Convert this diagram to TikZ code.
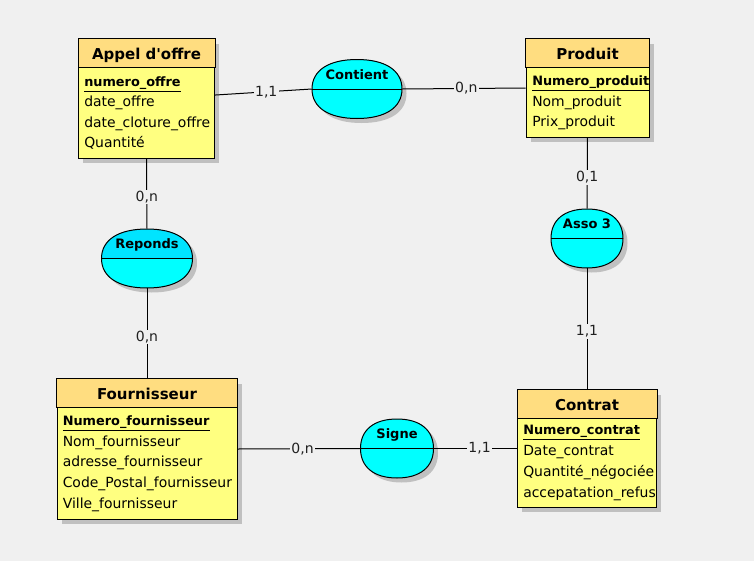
\documentclass[tikz,border=0pt]{standalone}
\usepackage{fontspec}
\setmainfont{DejaVu Sans}
\usetikzlibrary{shadows}
\definecolor{bg}{HTML}{F0F0F0}
\definecolor{hdr}{HTML}{FFDD80}
\definecolor{bodyc}{HTML}{FFFF80}
\definecolor{assoc}{HTML}{00FFFF}
\definecolor{assoctop}{HTML}{00E4FF}
\definecolor{shade}{HTML}{C0C0C0}
\definecolor{cardc}{HTML}{202020}
\tikzset{
  shad/.style={drop shadow={shadow xshift=3.4pt, shadow yshift=-3.4pt, fill=shade, opacity=1}},
  entbox/.style={rectangle, draw=black, line width=.75pt, fill=bodyc, inner sep=0pt, shad},
  assocnode/.style={rectangle, inner sep=0pt},
  enttitle/.style={inner sep=0pt, font=\bfseries\fontsize{11.25pt}{13pt}\selectfont},
  attr/.style={inner sep=0pt, anchor=base west, font=\fontsize{10.45pt}{12pt}\selectfont},
  keyattr/.style={inner sep=0pt, anchor=base west, font=\bfseries\fontsize{9.65pt}{12pt}\selectfont},
  asstitle/.style={inner sep=0pt, anchor=base, font=\bfseries\fontsize{9.75pt}{12pt}\selectfont},
  card/.style={fill=bg, inner sep=1pt, text=cardc, font=\fontsize{10.5pt}{12pt}\selectfont},
  link/.style={draw=black, line width=.75pt}
}
% oval path: #1 options, #2 x, #3 y, #4 half width, #5 half height
\newcommand\ovaldraw[5]{%
  \path[#1] ({#2-(#4)},#3) .. controls ({#2-(#4)},{#3-0.63*(#5)}) and ({#2-0.63*(#4)},{#3-(#5)}) .. (#2,{#3-(#5)})
    .. controls ({#2+0.63*(#4)},{#3-(#5)}) and ({#2+(#4)},{#3-0.63*(#5)}) .. ({#2+(#4)},#3)
    .. controls ({#2+(#4)},{#3+0.63*(#5)}) and ({#2+0.63*(#4)},{#3+(#5)}) .. (#2,{#3+(#5)})
    .. controls ({#2-0.63*(#4)},{#3+(#5)}) and ({#2-(#4)},{#3+0.63*(#5)}) .. ({#2-(#4)},#3) -- cycle;}
\newcommand\entitybox[6]{%
  \node[entbox, minimum width=#4*0.75pt, minimum height=#5*0.75pt] (#1) at (#2,#3) {};
  \filldraw[fill=hdr, draw=black, line width=.75pt] (#1.north west) rectangle ([yshift=-21.75pt]#1.north east);
  \node[enttitle, anchor=base] at ([yshift=-15.75pt]#1.north) {#6};
}
% #1 name, #2 x, #3 y, #4 w, #5 h, #6 title, #7 top colour
\newcommand\assocbox[7]{%
  \node[assocnode, minimum width=#4*0.75pt, minimum height=#5*0.75pt] (#1) at (#2,#3) {};
  \ovaldraw{fill=shade, shift={(4.5,4.5)}}{#2}{#3}{#4/2}{#5/2}
  \ovaldraw{fill=assoc}{#2}{#3}{#4/2}{#5/2}
  \begin{scope}
    \clip (#1.north west) rectangle (#1.east);
    \ovaldraw{fill=#7}{#2}{#3}{#4/2}{#5/2}
  \end{scope}
  \ovaldraw{draw=black, line width=.75pt}{#2}{#3}{#4/2}{#5/2}
  \draw[line width=.75pt] (#1.west) -- (#1.east);
  \node[asstitle] at ([yshift=7.5pt]#1.center) {#6};
}
\begin{document}
\begin{tikzpicture}[x=0.75pt,y=-0.75pt]
\fill[bg] (0,0) rectangle (754,561);
\useasboundingbox (0,0) rectangle (754,561);

% entities
\entitybox{appel}{146.5}{98.5}{136}{119}{Appel d\textquotesingle offre}
\node[keyattr] at (84,86) {\underline{numero\_offre}};
\node[attr] at (84,106.5) {date\_offre};
\node[attr] at (84,127) {date\_cloture\_offre};
\node[attr] at (84,147.5) {Quantité};

\entitybox{produit}{587.5}{88}{123}{98}{Produit}
\node[keyattr] at (532,85.5) {\underline{Numero\_produit}};
\node[attr] at (532,106) {Nom\_produit};
\node[attr] at (532,126.5) {Prix\_produit};

\entitybox{fourn}{147}{449}{180}{140}{Fournisseur}
\node[keyattr] at (62.5,425) {\underline{Numero\_fournisseur}};
\node[attr] at (62.5,446) {Nom\_fournisseur};
\node[attr] at (62.5,466.7) {adresse\_fournisseur};
\node[attr] at (62.5,487.5) {Code\_Postal\_fournisseur};
\node[attr] at (62.5,508) {Ville\_fournisseur};

\entitybox{contrat}{587}{448.5}{139}{117}{Contrat}
\node[keyattr] at (523,434.5) {\underline{Numero\_contrat}};
\node[attr] at (523,455.5) {Date\_contrat};
\node[attr] at (523,476.5) {Quantité\_négociée};
\node[attr] at (523,497.5) {accepatation\_refus};

% associations
\assocbox{contient}{357}{89}{90}{59}{Contient}{assoc}
\assocbox{reponds}{147}{258.5}{91}{59}{Reponds}{assoctop}
\assocbox{asso}{587}{238.5}{72}{59}{Asso 3}{assoc}
\assocbox{signe}{397}{448.5}{73}{59}{Signe}{assoc}

% connectors
\draw[link] ([yshift=2.6pt]appel.east) -- node[card, pos=0.53] {1,1} (contient.west);
\draw[link] (contient.east) -- node[card, pos=0.52] {0,n} (produit.west);
\draw[link] (appel.south) -- node[card, pos=0.55] {0,n} (reponds.north);
\draw[link] (reponds.south) -- node[card, pos=0.54] {0,n} (fourn.north);
\draw[link] (produit.south) -- node[card, pos=0.56] {0,1} (asso.north);
\draw[link] (asso.south) -- node[card, pos=0.52] {1,1} (contrat.north);
\draw[link] (fourn.east) -- node[card, pos=0.53] {0,n} (signe.west);
\draw[link] (signe.east) -- node[card, pos=0.55] {1,1} (contrat.west);
\end{tikzpicture}
\end{document}
